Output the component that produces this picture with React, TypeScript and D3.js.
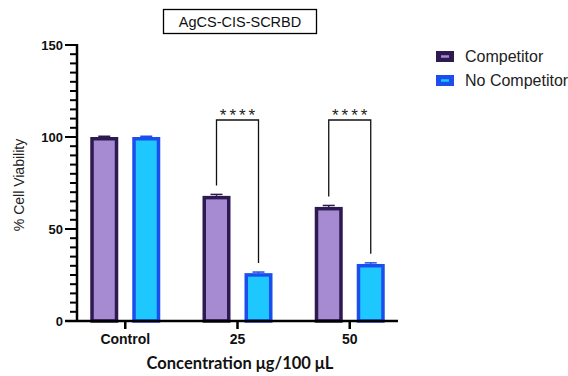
import * as d3 from "d3";

const groups = ["Control", "25", "50"];
const seriesKeys = ["Competitor", "No Competitor"];
const competitor = [100, 68, 62];
const competitorErr = [0.4, 0.8, 0.8];
const noCompetitor = [100, 26, 31];
const noCompetitorErr = [0.4, 0.6, 0.6];
const yTicks = [0, 50, 100, 150];
const minorTicks = d3.range(0, 151, 5);
const sigGroups = ["25", "50"];
const sigLabel = "****";

const FILL = ["#A68BD2", "#1EC8FF"];
const STROKE = ["#2D1A50", "#1B4EEC"];
const ARIAL = "Liberation Sans, Arial, sans-serif";

export default function App() {
  const W = 568, H = 376;
  const x0 = 77, x1 = 398, yBottom = 321, yTop = 45;

  const x = d3.scaleBand<string>().domain(groups).range([x0, x1]).paddingInner(0.3).paddingOuter(0.08);
  const xs = d3.scaleBand<string>().domain(seriesKeys).range([-35, 35]).paddingInner(1 / 3);
  const y = d3.scaleLinear().domain([0, 150]).range([yBottom, yTop]);
  const center = (g: string) => (x(g) ?? 0) + x.bandwidth() / 2;

  const sw = 3.5;
  const vals = [competitor, noCompetitor];
  const errs = [competitorErr, noCompetitorErr];

  return (
    <svg width={W} height={H} style={{ position: "absolute", left: 0, top: 0, background: "#fff" }}>
      {/* title box */}
      <rect x={163.5} y={9.5} width={153} height={24} fill="#fff" stroke="#000" strokeWidth={1.3} />
      <text x={240} y={27} textAnchor="middle" fontFamily={ARIAL} fontSize={14.5} fill="#111">AgCS-CIS-SCRBD</text>

      {/* bars */}
      {seriesKeys.map((k, si) =>
        groups.map((g, gi) => {
          const bx = center(g) + (xs(k) ?? 0);
          const v = vals[si][gi];
          const e = errs[si][gi];
          const cx = bx + xs.bandwidth() / 2;
          return (
            <g key={k + g}>
              <rect x={bx + sw / 2} y={y(v) + sw / 2} width={xs.bandwidth() - sw} height={y(0) - y(v) - sw / 2}
                fill={FILL[si]} stroke={STROKE[si]} strokeWidth={sw} />
              <line x1={cx} x2={cx} y1={y(v)} y2={y(v + e)} stroke={STROKE[si]} strokeWidth={1.5} />
              <line x1={cx - 6} x2={cx + 6} y1={y(v + e)} y2={y(v + e)} stroke={STROKE[si]} strokeWidth={1.5} />
            </g>
          );
        })
      )}

      {/* significance brackets */}
      {sigGroups.map(g => {
        const gi = groups.indexOf(g);
        const lx = center(g) + (xs(seriesKeys[0]) ?? 0) + xs.bandwidth() / 2;
        const rx = center(g) + (xs(seriesKeys[1]) ?? 0) + xs.bandwidth() / 2;
        const top = 120;
        const lb = y(competitor[gi] + competitorErr[gi]) - 9;
        const rb = y(noCompetitor[gi] + noCompetitorErr[gi]) - 9;
        return (
          <g key={"sig" + g}>
            <path d={`M${lx},${lb}V${top}H${rx}V${rb}`} fill="none" stroke="#111" strokeWidth={1.3} />
            <text x={(lx + rx) / 2 + 1.5} y={top + 1} textAnchor="middle" fontFamily={ARIAL} fontSize={17} letterSpacing={3} fill="#222">{sigLabel}</text>
          </g>
        );
      })}

      {/* y axis */}
      <line x1={x0} x2={x0} y1={yTop - 1} y2={yBottom + 1} stroke="#000" strokeWidth={2.5} />
      {minorTicks.map(t => (
        <line key={"m" + t} x1={x0 - 7} x2={x0} y1={y(t)} y2={y(t)} stroke="#000" strokeWidth={2} />
      ))}
      {yTicks.map(t => (
        <g key={"y" + t}>
          <line x1={x0 - 12} x2={x0} y1={y(t)} y2={y(t)} stroke="#000" strokeWidth={2} />
          <text x={x0 - 14} y={y(t) + 4.5} textAnchor="end" fontFamily={ARIAL} fontSize={13} fontWeight={700} fill="#111">{t}</text>
        </g>
      ))}
      <text transform={`translate(24,${(yTop + yBottom) / 2 + 2}) rotate(-90)`} textAnchor="middle" fontFamily={ARIAL} fontSize={14} fill="#222">% Cell Viability</text>

      {/* x axis */}
      <line x1={x0 - 12} x2={x1} y1={yBottom} y2={yBottom} stroke="#000" strokeWidth={2.5} />
      {groups.map(g => (
        <g key={"x" + g}>
          <line x1={center(g)} x2={center(g)} y1={yBottom} y2={yBottom + 8} stroke="#000" strokeWidth={2.5} />
          <text x={center(g)} y={yBottom + 23} textAnchor="middle" fontFamily={ARIAL} fontSize={14} fontWeight={700} fill="#111">{g}</text>
        </g>
      ))}
      <text x={240} y={369} textAnchor="middle" fontFamily="Lato, Open Sans, sans-serif" fontSize={16.5} fontWeight={700} fill="#111">Concentration μg/100 μL</text>

      {/* legend */}
      {seriesKeys.map((k, i) => (
        <g key={"leg" + k} transform={`translate(436,${51 + i * 24})`}>
          <rect x={0} y={0} width={18} height={11} fill={STROKE[i]} />
          <line x1={5} x2={13} y1={5.5} y2={5.5} stroke={FILL[i]} strokeWidth={2.5} />
          <text x={29} y={10.5} fontFamily={ARIAL} fontSize={16} fill="#222">{k}</text>
        </g>
      ))}
    </svg>
  );
}
